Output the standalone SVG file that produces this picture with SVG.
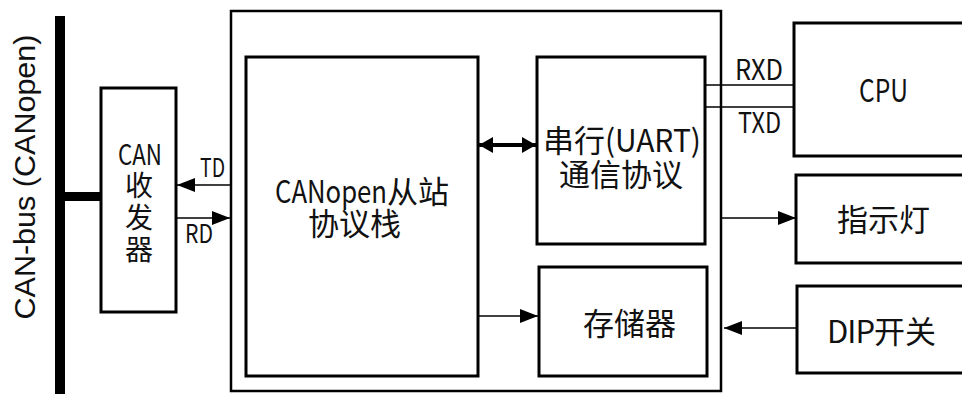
<svg xmlns="http://www.w3.org/2000/svg" width="962" height="394" viewBox="0 0 962 394">
<style>
.box{fill:#fff;stroke:#000;stroke-width:3}
.outer{fill:#fff;stroke:#000;stroke-width:2.5}
.t{font-family:"Noto Sans CJK SC","Liberation Sans",sans-serif;fill:#111}
.s32{font-size:31px}
.s29{font-size:28px}
.s26{font-size:26px}
.ln{stroke:#000;stroke-width:1.6;fill:none}
.bus{fill:#000}
</style>
<defs>
<marker id="ah" markerUnits="userSpaceOnUse" markerWidth="18" markerHeight="14" viewBox="0 0 18 14" refX="18" refY="7" orient="auto"><path d="M0,0 L18,7 L0,14 Z" fill="#000"/></marker>
<marker id="bh" markerUnits="userSpaceOnUse" markerWidth="14" markerHeight="16" viewBox="0 0 14 16" refX="14" refY="8" orient="auto-start-reverse"><path d="M0,0 L14,8 L0,16 Z" fill="#000"/></marker>
</defs>

<g id="bus">
<rect class="bus" x="55" y="16" width="10" height="378"/>
<rect class="bus" x="60" y="192" width="42" height="9"/>
<text class="t" transform="translate(35,177) rotate(-90)" text-anchor="middle" style="font-family:'Liberation Sans',sans-serif;font-size:29px" textLength="285" lengthAdjust="spacingAndGlyphs">CAN-bus (CANopen)</text>
</g>

<g id="can-transceiver">
<rect class="box" x="101" y="88" width="75" height="224"/>
<text class="t s29"><tspan x="118" y="165" textLength="44" lengthAdjust="spacingAndGlyphs">CAN</tspan><tspan x="125" y="196">收</tspan><tspan x="125" y="228">发</tspan><tspan x="125" y="260">器</tspan></text>
</g>

<g id="controller">
<rect class="outer" x="231" y="11" width="490" height="380"/>
</g>

<g id="canopen-stack">
<rect class="box" x="246" y="57" width="232" height="319"/>
<text class="t s32"><tspan x="275" y="203" textLength="112" lengthAdjust="spacingAndGlyphs">CANopen</tspan><tspan>从站</tspan><tspan x="308" y="235">协议栈</tspan></text>
</g>

<g id="uart">
<rect class="box" x="537" y="57" width="168" height="187"/>
<text class="t s32"><tspan x="543" y="152">串行</tspan><tspan textLength="96" lengthAdjust="spacingAndGlyphs">(UART)</tspan><tspan x="559" y="186">通信协议</tspan></text>
</g>

<g id="storage">
<rect class="box" x="539" y="267" width="168" height="109"/>
<text class="t s32" x="583" y="335">存储器</text>
</g>

<g id="cpu">
<rect class="box" x="794" y="23" width="180" height="133"/>
<text class="t s32" x="859" y="102"><tspan textLength="49" lengthAdjust="spacingAndGlyphs">CPU</tspan></text>
</g>

<g id="indicator">
<rect class="box" x="796" y="175" width="180" height="88"/>
<text class="t s32" x="837" y="231">指示灯</text>
</g>

<g id="dip">
<rect class="box" x="797" y="286" width="180" height="87"/>
<text class="t s32" x="827" y="343"><tspan textLength="48" lengthAdjust="spacing">DIP</tspan><tspan>开关</tspan></text>
</g>

<g id="connectors">
<line class="ln" x1="231" y1="185" x2="177" y2="185" marker-end="url(#ah)"/>
<line class="ln" x1="177" y1="218" x2="230" y2="218" marker-end="url(#ah)"/>
<line x1="479" y1="145" x2="536" y2="145" stroke="#000" stroke-width="4" marker-start="url(#bh)" marker-end="url(#bh)"/>
<line class="ln" x1="478" y1="316" x2="538" y2="316" marker-end="url(#ah)"/>
<line class="ln" x1="705" y1="85" x2="794" y2="85"/>
<line class="ln" x1="705" y1="107" x2="794" y2="107"/>
<line class="ln" x1="722" y1="218" x2="796" y2="218" marker-end="url(#ah)"/>
<line class="ln" x1="797" y1="328" x2="724" y2="328" marker-end="url(#ah)"/>
<text class="t s26" x="200" y="177"><tspan textLength="25" lengthAdjust="spacingAndGlyphs">TD</tspan></text>
<text class="t s26" x="185" y="243"><tspan textLength="28" lengthAdjust="spacingAndGlyphs">RD</tspan></text>
<text class="t s29" x="735" y="80"><tspan textLength="48" lengthAdjust="spacingAndGlyphs">RXD</tspan></text>
<text class="t s29" x="738" y="133"><tspan textLength="43" lengthAdjust="spacingAndGlyphs">TXD</tspan></text>
</g>
</svg>
